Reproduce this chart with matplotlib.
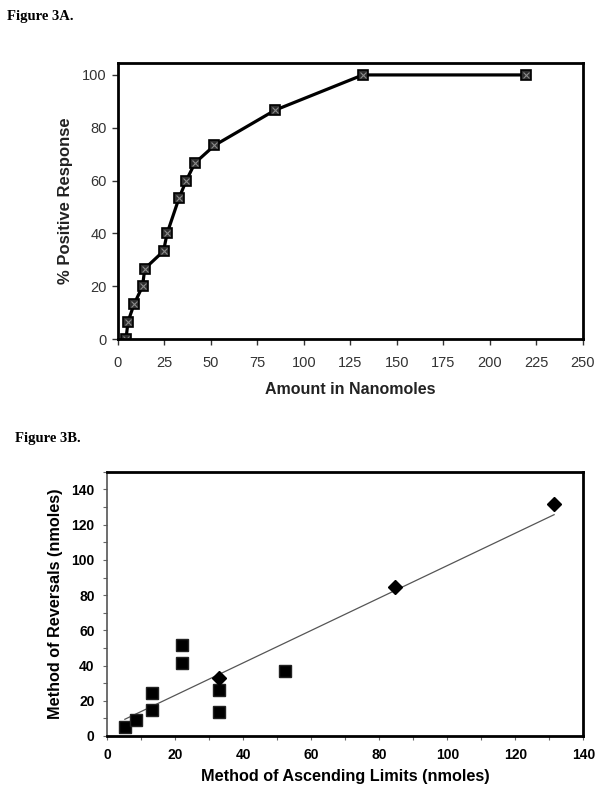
import matplotlib

matplotlib.use("Agg")

import matplotlib.pyplot as plt
import numpy as np
from matplotlib.ticker import MultipleLocator

plt.rcParams["font.family"] = ["Liberation Sans", "DejaVu Sans"]

# Figure 3A: dose-response
amount_nmol = [4.3, 5.4, 8.7, 13.2, 14.4, 24.5, 26.4, 32.8, 36.7, 41.4, 51.9, 84.5, 131.7, 219.3]
pct_positive = [0, 6.67, 13.33, 20, 26.67, 33.33, 40, 53.33, 60, 66.67, 73.33, 86.67, 100, 100]

# Figure 3B: method comparison
sq_ascending = [5.2, 8.4, 13.2, 13.2, 22.0, 22.0, 32.9, 32.9, 52.3]
sq_reversals = [5.3, 8.8, 14.5, 24.5, 41.4, 51.7, 13.4, 26.2, 36.7]
dm_ascending = [33.0, 84.6, 131.4]
dm_reversals = [33.1, 84.7, 131.5]

fig = plt.figure(figsize=(6.02, 7.98), dpi=100)

fig.text(0.012, 0.979, "Figure 3A.", family="Liberation Serif", weight="bold",
         fontsize=10.5, va="center")
fig.text(0.025, 0.451, "Figure 3B.", family="Liberation Serif", weight="bold",
         fontsize=10.5, va="center")

# --- A ---
ax = fig.add_axes([0.196, 0.575, 0.772, 0.346])
ax.plot(amount_nmol, pct_positive, color="black", lw=2.3, marker="s", ms=6.5,
        mfc="#2e2e2e", mec="black", mew=1.2)
ax.plot(amount_nmol, pct_positive, ls="none", marker="x", ms=4, mec="#8a8a8a", mew=0.8)
ax.set_xlim(0, 250)
ax.set_ylim(0, 104.5)
ax.xaxis.set_major_locator(MultipleLocator(25))
ax.yaxis.set_major_locator(MultipleLocator(20))
ax.tick_params(direction="out", length=4, width=1, labelsize=10.5, colors="#333333",
               pad=4)
ax.tick_params(axis="x", pad=8)
for s in ax.spines.values():
    s.set_linewidth(2)
ax.set_xlabel("Amount in Nanomoles", fontsize=11.5, weight="bold", color="#222222",
              labelpad=9)
ax.set_ylabel("% Positive Response", fontsize=12, weight="bold", color="#222222",
              labelpad=7)

# --- B ---
bx = fig.add_axes([0.178, 0.0777, 0.791, 0.331])
all_x = np.array(sq_ascending + dm_ascending)
all_y = np.array(sq_reversals + dm_reversals)
slope, icept = np.polyfit(all_x, all_y, 1)
xs = np.array([all_x.min(), all_x.max()])
bx.plot(xs, slope * xs + icept, color="#555555", lw=0.9, zorder=1)
bx.plot(sq_ascending, sq_reversals, ls="none", marker="s", ms=8.5, mfc="black",
        mec="#222222", zorder=2)
bx.plot(dm_ascending, dm_reversals, ls="none", marker="D", ms=7, mfc="black",
        mec="black", zorder=2)
bx.set_xlim(0, 140)
bx.set_ylim(0, 150)
bx.set_xticks(np.arange(0, 141, 20))
bx.set_yticks(np.arange(0, 141, 20))
bx.xaxis.set_minor_locator(MultipleLocator(10))
bx.yaxis.set_minor_locator(MultipleLocator(10))
bx.tick_params(which="both", direction="out", length=3, width=0.8, color="#666666")
bx.tick_params(which="major", labelsize=10, pad=6)
for lab in bx.get_xticklabels() + bx.get_yticklabels():
    lab.set_fontweight("bold")
for s in bx.spines.values():
    s.set_linewidth(2)
bx.spines["left"].set_linewidth(1.2)
bx.spines["left"].set_color("#555555")
bx.set_xlabel("Method of Ascending Limits (nmoles)", fontsize=11.7, weight="bold",
              labelpad=5)
bx.set_ylabel("Method of Reversals (nmoles)", fontsize=11.7, weight="bold",
              labelpad=6)

fig.savefig("out.png", dpi=100)
